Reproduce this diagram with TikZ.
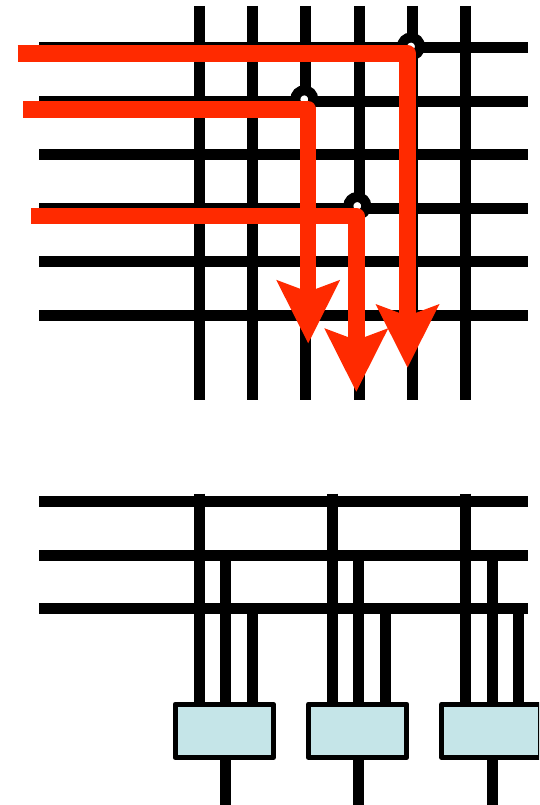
\documentclass[tikz,border=0pt]{standalone}
\usepackage{tikz}
\usetikzlibrary{arrows.meta,calc,positioning}
\definecolor{boxfill}{HTML}{C5E5E8}
\definecolor{routered}{HTML}{FF2A00}
\tikzset{
  wire/.style={draw=black, line width=11pt},
  ring/.style={draw=black, fill=white, line width=10pt},
  route/.style={routered, line width=16.5pt, line join=round, -{Stealth[length=63.5pt,width=64pt,inset=12pt,line width=0pt]}},
  block/.style={draw=black, fill=boxfill, line width=5pt, line join=round, minimum width=98.6pt, minimum height=53.3pt, inner sep=0pt}
}
\begin{document}
\begin{tikzpicture}[x=1pt,y=-1pt]
  \useasboundingbox (0,0) rectangle (539,805);
  \clip (0,0) rectangle (539,805);
  % upper grid
  \foreach \y in {48,101.5,155,208,261.5,315}{\draw[wire] (39,\y)--(528,\y);}
  \foreach \x in {199,252,305.5,359,412,465.5}{\draw[wire] (\x,6)--(\x,400);}
  \foreach \x/\y in {411/46.5,304.3/99.3,357.3/206}{\draw[ring] (\x,\y) circle (9);}
  \draw[route] (17.5,53.5)--(407.5,53.5)--(407.5,367.5);
  \draw[route] (23,109.3)--(308.2,109.3)--(308.2,343.3);
  \draw[route] (31,216.2)--(356.3,216.2)--(356.3,391.7);
  % lower bus
  \foreach \y in {501.5,555,608}{\draw[wire] (39,\y)--(528,\y);}
  \foreach \x/\i in {224.3/1,357.6/2,491/3}{
    \draw[wire] (\x-25.3,493.5)--(\x-25.3,705);
    \draw[wire] (\x+1.3,555)--(\x+1.3,705);
    \draw[wire] (\x+27.8,608)--(\x+27.8,705);
    \node[block] (box\i) at (\x,730.8){};
    \draw[wire] (\x+1.3,758)--(\x+1.3,805);
  }
\end{tikzpicture}
\end{document}
